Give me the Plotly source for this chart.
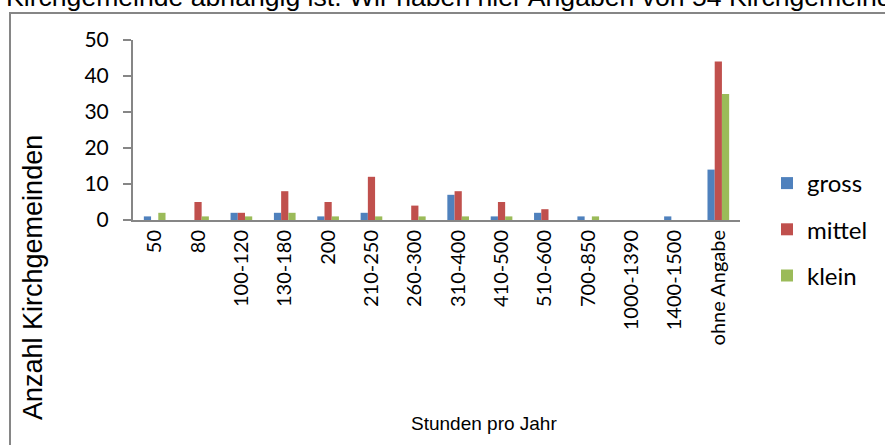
import plotly.graph_objects as go

categories = ["50", "80", "100-120", "130-180", "200", "210-250", "260-300",
              "310-400", "410-500", "510-600", "700-850", "1000-1390",
              "1400-1500", "ohne Angabe"]
gross = [1, 0, 2, 2, 1, 2, 0, 7, 1, 2, 1, 0, 1, 14]
mittel = [0, 5, 2, 8, 5, 12, 4, 8, 5, 3, 0, 0, 0, 44]
klein = [2, 1, 1, 2, 1, 1, 1, 1, 1, 0, 1, 0, 0, 35]
y_ticks = [0, 10, 20, 30, 40, 50]

W, H = 885, 445
L, R, T, B = 133, 740, 40, 220  # plot area pixel bounds

def px(x):
    return (x - L) / (R - L)

def py(y):
    return (B - y) / (B - T)

fig = go.Figure()
for name, vals, col, grp in [("gross", gross, "#4F81BD", "a"),
                             ("mittel", mittel, "#C0504D", "b"),
                             ("klein", klein, "#9BBB59", "c")]:
    fig.add_trace(go.Bar(x=categories, y=vals, name=name, legendgroup=grp,
                         marker=dict(color=col, line=dict(width=0))))

fig.update_layout(
    width=W, height=H,
    margin=dict(l=L, r=W - R, t=T, b=H - B),
    paper_bgcolor="white", plot_bgcolor="white",
    barmode="group", bargap=0.5, bargroupgap=0,
    font=dict(family="Lato, Open Sans, sans-serif", size=18, color="black"),
    showlegend=True,
    legend=dict(x=px(767), y=py(161), xanchor="left", yanchor="top",
                font=dict(size=24, family="Lato, sans-serif"),
                tracegroupgap=12, itemwidth=30, bgcolor="rgba(0,0,0,0)"),
    xaxis=dict(type="category", tickangle=-90, showline=True, linecolor="#868686",
               linewidth=2, ticks="", showgrid=False, zeroline=False,
               tickfont=dict(size=20, family="Lato, sans-serif"), automargin=False),
    yaxis=dict(range=[0, 50], tickvals=y_ticks, showline=True, linecolor="#868686",
               linewidth=2, ticks="outside", ticklen=8, tickcolor="#868686",
               tickwidth=2, showgrid=False, zeroline=False, ticklabelstandoff=10,
               tickfont=dict(size=21, family="Lato, sans-serif"), automargin=False),
    shapes=[dict(type="rect", xref="paper", yref="paper",
                 x0=px(10), x1=px(960), y0=py(13), y1=py(520),
                 line=dict(color="#868686", width=2), fillcolor="rgba(0,0,0,0)",
                 layer="below")],
    annotations=[
        dict(text="Anzahl Kirchgemeinden", textangle=-90, xref="paper", yref="paper",
             x=px(33), y=py(278), xanchor="center", yanchor="middle", showarrow=False,
             font=dict(family="Liberation Sans, Arial, sans-serif", size=27)),
        dict(text="Stunden pro Jahr", xref="paper", yref="paper",
             x=px(484), y=py(423), xanchor="center", yanchor="middle", showarrow=False,
             font=dict(family="Liberation Sans, Arial, sans-serif", size=19)),
        dict(text="Kirchgemeinde abhängig ist. Wir haben hier Angaben von 54 Kirchgemeinden",
             xref="paper", yref="paper", x=px(4), y=py(-3), xanchor="left",
             yanchor="middle", showarrow=False,
             font=dict(family="Liberation Sans, Arial, sans-serif", size=26.6)),
    ],
)

fig.write_html("out.html", config={"displayModeBar": False},
               post_script="document.body.style.margin='0';")
